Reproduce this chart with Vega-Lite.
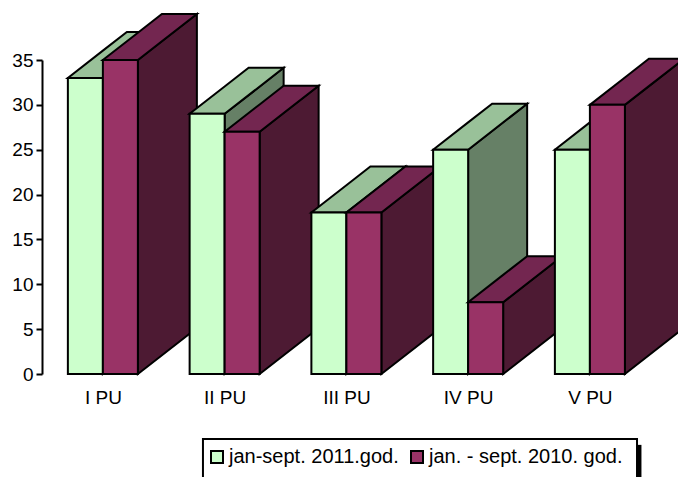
{
"$schema":"https://vega.github.io/schema/vega-lite/v6.json",
"width":636,"height":314,
"autosize":{"type":"none"},
"padding":{"left":42,"top":60,"right":0,"bottom":103},
"background":"white",
"config":{"view":{"stroke":null},"font":"Liberation Sans"},
"layer":[
{
"data":{"values":[
{"cat":"I PU","series":"jan-sept. 2011.god.","value":33},
{"cat":"I PU","series":"jan. - sept. 2010. god.","value":35},
{"cat":"II PU","series":"jan-sept. 2011.god.","value":29},
{"cat":"II PU","series":"jan. - sept. 2010. god.","value":27},
{"cat":"III PU","series":"jan-sept. 2011.god.","value":18},
{"cat":"III PU","series":"jan. - sept. 2010. god.","value":18},
{"cat":"IV PU","series":"jan-sept. 2011.god.","value":25},
{"cat":"IV PU","series":"jan. - sept. 2010. god.","value":8},
{"cat":"V PU","series":"jan-sept. 2011.god.","value":25},
{"cat":"V PU","series":"jan. - sept. 2010. god.","value":30}
]},
"transform":[
{"calculate":"indexof(['I PU','II PU','III PU','IV PU','V PU'],datum.cat)+1+(datum.series==='jan-sept. 2011.god.'?-0.2875:0)","as":"x0"},
{"calculate":"['side','top','front']","as":"face"},
{"flatten":["face"]},
{"calculate":"datum.face==='front'?datum.series:datum.series+' '+datum.face","as":"shade"},
{"calculate":"datum.cat+datum.series+datum.face","as":"piece"},
{"calculate":"datum.face==='front'?[{a:datum.x0,b:0,c:datum.value},{a:datum.x0+0.2875,b:0,c:datum.value}]:datum.face==='side'?[{a:datum.x0+0.2875,b:0,c:datum.value},{a:datum.x0+0.2875+0.4846,b:5.13,c:datum.value+5.13}]:[{a:datum.x0,b:datum.value,c:datum.value},{a:datum.x0+0.2875,b:datum.value,c:datum.value+3.045},{a:datum.x0+0.4846,b:datum.value+2.085,c:datum.value+5.13},{a:datum.x0+0.7721,b:datum.value+5.13,c:datum.value+5.13}]","as":"pts"},
{"flatten":["pts"]},
{"calculate":"datum.pts.a","as":"px"},
{"calculate":"datum.pts.b","as":"lo"},
{"calculate":"datum.pts.c","as":"hi"}
],
"mark":{"type":"area","stroke":"black","strokeWidth":2,"opacity":1,"strokeJoin":"miter"},
"encoding":{
"x":{"field":"px","type":"quantitative","scale":{"domain":[0.5,5.7236],"nice":false,"zero":false},"title":null,
"axis":{"values":[1,2,3,4,5],"labelExpr":"['I PU','II PU','III PU','IV PU','V PU'][datum.value-1]","grid":false,"ticks":false,"domain":false,"labelFontSize":19,"labelColor":"black","labelPadding":14,"labelAngle":0}},
"y":{"field":"lo","type":"quantitative","stack":null,"scale":{"domain":[0,35],"nice":false},"title":null,
"axis":{"values":[0,5,10,15,20,25,30,35],"grid":false,"domainColor":"black","domainWidth":2,"tickColor":"black","tickWidth":2,"tickSize":6,"labelFontSize":19,"labelColor":"black","labelPadding":3}},
"y2":{"field":"hi"},
"detail":{"field":"piece"},
"fill":{"field":"shade","type":"nominal",
"scale":{"domain":["jan-sept. 2011.god.","jan. - sept. 2010. god.","jan-sept. 2011.god. top","jan. - sept. 2010. god. top","jan-sept. 2011.god. side","jan. - sept. 2010. god. side"],
"range":["#CCFFCC","#993366","#99C199","#732650","#668066","#4D1A33"]},
"legend":{"values":["jan-sept. 2011.god.","jan. - sept. 2010. god."],"title":null,"orient":"none","legendX":157,"legendY":379,"direction":"horizontal","columns":2,"padding":8,"symbolType":"square","symbolSize":144,"symbolStrokeColor":"black","symbolStrokeWidth":2,"labelFontSize":20,"labelColor":"black","labelOffset":2,"columnPadding":8,"labelLimit":400}}
}
},
{
"data":{"values":[{}]},
"mark":{"type":"rule","color":"black","strokeWidth":4},
"encoding":{"x":{"datum":5.407},"y":{"datum":-7.9},"y2":{"datum":-12}}
},
{
"data":{"values":[{}]},
"mark":{"type":"rect","fill":"white","stroke":"black","strokeWidth":2},
"encoding":{"x":{"datum":1.822},"x2":{"datum":5.387},"y":{"datum":-7.245},"y2":{"datum":-11.8}}
}
]
}
